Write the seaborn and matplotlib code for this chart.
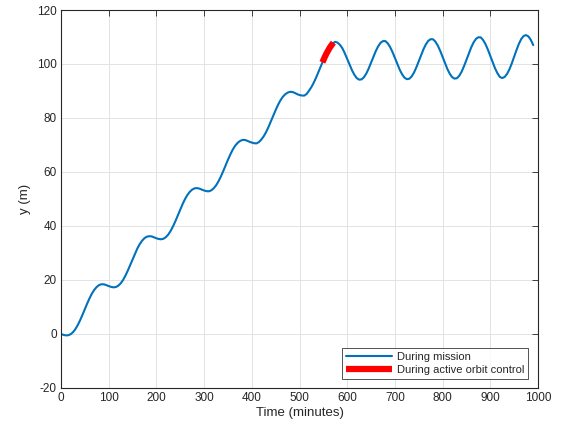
import matplotlib
matplotlib.use("Agg")
import matplotlib.pyplot as plt
import seaborn as sns
import pandas as pd

# --- data ---
# sampling times of the mission trajectory (minutes), every 5 minutes from 0 to 990
time_mission = list(range(0, 995, 5))
y_mission = [
    0.00, -0.32, -0.51, -0.47, -0.10, 0.63, 1.76, 3.26, 5.07, 7.09,          # 0-45
    9.22, 11.33, 13.30, 15.03, 16.42, 17.45, 18.15, 18.42, 18.40, 18.10,     # 50-95
    17.75, 17.45, 17.28, 17.40, 17.88, 18.73, 19.97, 21.57, 23.46, 25.52,    # 100-145
    27.66, 29.74, 31.65, 33.28, 34.56, 35.50, 36.05, 36.22, 36.15, 35.80,    # 150-195
    35.45, 35.18, 35.08, 35.30, 35.89, 36.86, 38.22, 39.91, 41.86, 43.96,    # 200-245
    46.10, 48.14, 49.97, 51.50, 52.67, 53.48, 53.95, 54.05, 53.85, 53.48,    # 250-295
    53.15, 52.90, 52.85, 53.20, 53.94, 55.03, 56.49, 58.27, 60.28, 62.41,    # 300-345
    64.53, 66.51, 68.27, 69.70, 70.74, 71.45, 71.85, 71.90, 71.60, 71.20,    # 350-395
    70.90, 70.65, 70.60, 71.10, 72.02, 73.23, 74.80, 76.66, 78.71, 80.85,    # 400-445
    82.94, 84.87, 86.53, 87.85, 88.78, 89.38, 89.70, 89.65, 89.30, 88.85,    # 450-495
    88.50, 88.32, 88.30, 88.90, 90.14, 91.46, 93.12, 95.05, 97.15, 99.29,    # 500-545
    101.40, 103.30, 105.00, 106.50, 107.70, 108.20, 107.90, 107.05, 105.80, 103.96,  # 550-595
    101.90, 99.74, 97.70, 96.01, 94.77, 94.20, 94.30, 95.08, 96.44, 98.32,   # 600-645
    100.47, 102.71, 104.82, 106.58, 107.87, 108.48, 108.50, 107.65, 106.27, 104.42,  # 650-695
    102.26, 100.03, 97.93, 96.20, 94.96, 94.39, 94.52, 95.36, 96.81, 98.77,  # 700-745
    101.01, 103.32, 105.49, 107.30, 108.59, 109.19, 109.15, 108.26, 106.80, 104.86,  # 750-795
    102.62, 100.31, 98.15, 96.38, 95.14, 94.58, 94.74, 95.66, 97.20, 99.23,  # 800-845
    101.55, 103.94, 106.17, 108.01, 109.31, 109.90, 109.85, 108.86, 107.33, 105.30,  # 850-895
    102.97, 100.59, 98.37, 96.56, 95.20, 94.80, 95.20, 96.30, 98.00, 100.20,  # 900-945
    102.70, 105.20, 107.50, 109.30, 110.40, 110.70, 110.20, 108.90, 107.00,   # 950-990
]

time_control = [548, 552, 556, 560, 564, 568, 571]
y_control = [100.6, 102.2, 103.7, 105.0, 106.2, 107.2, 107.9]

x_ticks = [0, 100, 200, 300, 400, 500, 600, 700, 800, 900, 1000]
y_ticks = [-20, 0, 20, 40, 60, 80, 100, 120]

labels = ["During mission", "During active orbit control"]

# --- styling ---
sns.set_style("white")
plt.rcParams["font.family"] = ["Liberation Sans", "DejaVu Sans"]
plt.rcParams["axes.unicode_minus"] = False

axis_col = "#262626"
fig = plt.figure(figsize=(5.64, 4.34), dpi=100)
ax = fig.add_axes([61 / 564, 1 - 388 / 434, 477 / 564, 378 / 434])

df_m = pd.DataFrame({"t": time_mission, "y": y_mission})
df_c = pd.DataFrame({"t": time_control, "y": y_control})

sns.lineplot(data=df_m, x="t", y="y", ax=ax, color="#0072BD", linewidth=1.5,
             label=labels[0], sort=False, estimator=None)
sns.lineplot(data=df_c, x="t", y="y", ax=ax, color="#FF0000", linewidth=4.5,
             label=labels[1], sort=False, estimator=None, solid_capstyle="butt")

ax.set_xlim(0, 1000)
ax.set_ylim(-20, 120)
ax.set_xticks(x_ticks)
ax.set_yticks(y_ticks)
ax.set_xlabel("Time (minutes)", fontsize=9.5, color=axis_col, labelpad=2)
ax.set_ylabel("y (m)", fontsize=9.5, color=axis_col, labelpad=4)

ax.grid(True, color="#e3e3e3", linewidth=0.7)
ax.set_axisbelow(True)
for s in ax.spines.values():
    s.set_color(axis_col)
    s.set_linewidth(0.8)
ax.tick_params(direction="in", length=4, width=0.6, colors=axis_col,
               labelsize=8.5, top=True, right=True, pad=3)

leg = ax.legend(loc="lower right", bbox_to_anchor=(0.979, 0.024), borderaxespad=0,
                fontsize=8, frameon=True, fancybox=False, handlelength=4.2,
                handletextpad=0.4, borderpad=0.35, labelspacing=0.3)
leg.get_frame().set_edgecolor(axis_col)
leg.get_frame().set_linewidth(0.7)
for t in leg.get_texts():
    t.set_color(axis_col)

fig.savefig("out.png", dpi=100)
